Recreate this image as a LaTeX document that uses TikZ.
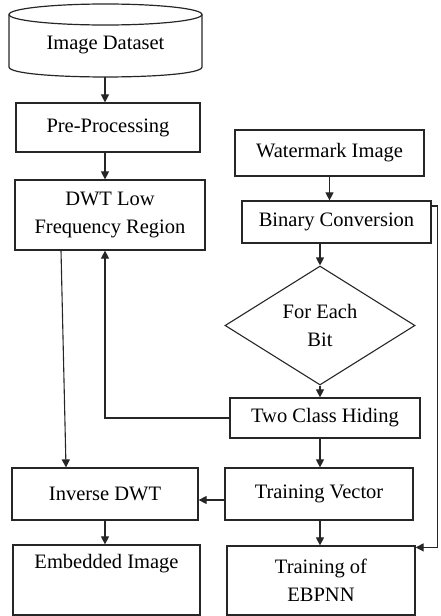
\documentclass[tikz,border=0pt]{standalone}
\usepackage{fontspec}
\setmainfont{Liberation Serif}
\usetikzlibrary{arrows.meta,shapes.geometric,calc}
\begin{document}
\begin{tikzpicture}[x=1pt,y=-1pt,
  font=\fontsize{20.5}{28}\selectfont,
  box/.style={draw=black!85,line width=1.2pt,rectangle,inner sep=0pt,align=center},
  dia/.style={draw=black!85,line width=1.1pt,shape=diamond,shape aspect=1.6,inner sep=0pt,align=center},
  arr/.style={draw=black!85,line width=1.1pt,-{Triangle[length=8pt,width=8pt]}},
  ln/.style={draw=black!85,line width=1.1pt}]
\useasboundingbox (0,0) rectangle (440,616);
% cylinder
\draw[line width=1.2pt,black!85] (105.5,14.5) ellipse [x radius=96.5, y radius=10.5];
\draw[line width=1.2pt,black!85] (9,14.5) -- (9,67) .. controls (9,80.3) and (202,80.3) .. (202,67) -- (202,14.5);
\node (ds) at (105.5,45) {Image Dataset};
\coordinate (dsb) at (105,77);
% left column
\node[box,minimum width=184pt,minimum height=49pt] (pre) at (108,127.5) {Pre-Processing};
\node[box,minimum width=190pt,minimum height=70pt] (dwt) at (110,215) {DWT Low\\Frequency Region};
\node[box,minimum width=186pt,minimum height=52pt] (idwt) at (105,494) {Inverse DWT};
\node[box,minimum width=187pt,minimum height=70pt] (emb) at (106.5,580) {Embedded Image\\\strut};
% right column
\node[box,minimum width=189pt,minimum height=46pt] (wm) at (329.5,153) {Watermark Image};
\node[box,minimum width=189pt,minimum height=42pt] (bin) at (336.5,222) {Binary Conversion};
\node[dia,minimum width=190pt,minimum height=119pt] (fe) at (320,325.5) {For Each\\Bit};
\node[box,minimum width=190pt,minimum height=40pt] (tch) at (325,418) {Two Class Hiding};
\node[box,minimum width=188pt,minimum height=52pt] (tv) at (319,494) {Training Vector};
\node[box,minimum width=188pt,minimum height=69pt] (ebp) at (321,580.5) {Training of\\EBPNN};
% connectors
\draw[arr] (dsb) -- (pre.north -| dsb);
\draw[arr] (pre.south -| dsb) -- (dwt.north -| dsb);
\draw[arr] ([xshift=-49pt]dwt.south) -- ([xshift=-39pt]idwt.north);
\draw[arr] (tch.west) -| ([xshift=-5pt]dwt.south);
\draw[arr] (wm.south) -- (wm.south |- bin.north);
\draw[arr] (bin.south -| fe.north) -- (fe.north);
\draw[arr] (fe.south) -- (fe.south |- tch.north);
\draw[arr] (tch.south -| fe.south) -- (tv.north -| fe.south);
\draw[arr] ([yshift=-6pt]tv.west) -- ([yshift=-6pt]idwt.east);
\draw[arr] (idwt.south) -- (emb.north -| idwt.south);
\draw[arr] (tv.south -| fe.south) -- (ebp.north -| fe.south);
\draw[arr] ([yshift=16pt]bin.east) -- ++(6,0) coordinate (fb) |- ([yshift=-2pt]ebp.north east);
\end{tikzpicture}
\end{document}
